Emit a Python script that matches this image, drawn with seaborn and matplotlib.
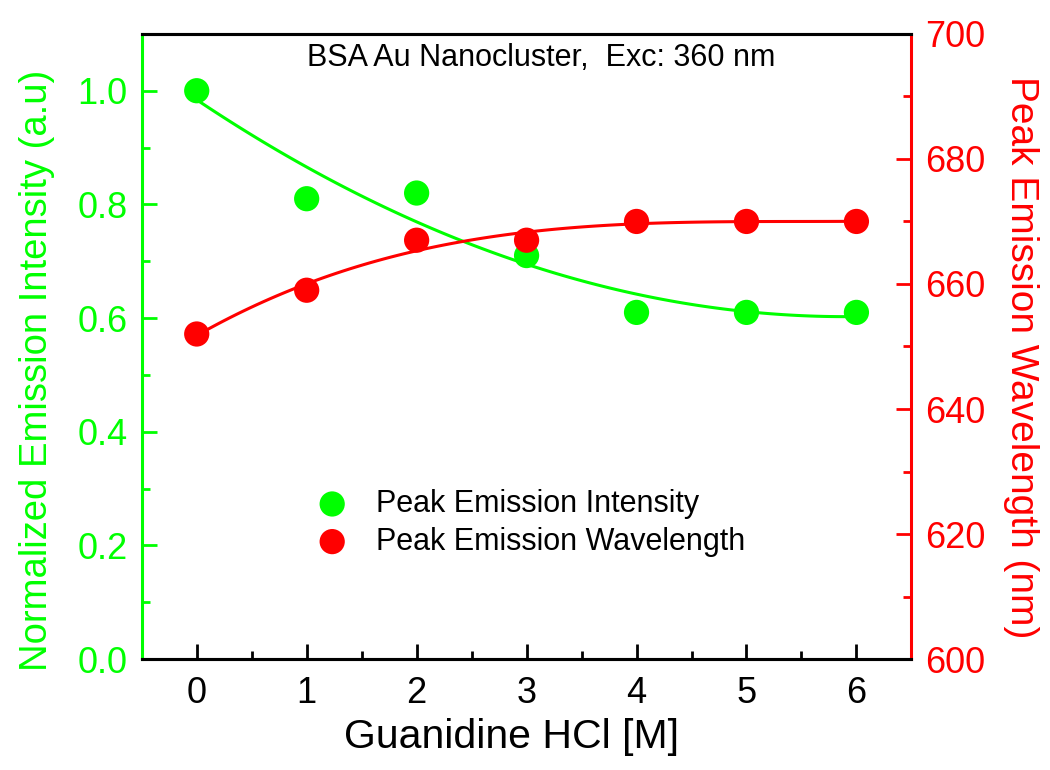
import numpy as np
import pandas as pd
import matplotlib
matplotlib.use("Agg")
import matplotlib.pyplot as plt
import seaborn as sns
from matplotlib.ticker import MultipleLocator

# Data
guanidine = [0, 1, 2, 3, 4, 5, 6]
intensity = [1.00, 0.81, 0.82, 0.71, 0.61, 0.61, 0.61]
wavelength = [652, 659, 667, 667, 670, 670, 670]
x_ticks = [0, 1, 2, 3, 4, 5, 6]

GREEN = "#00ff00"
RED = "#ff0000"

sns.set_theme(style="ticks")
plt.rcParams['font.family'] = ['Liberation Sans', 'DejaVu Sans']
plt.rcParams['text.color'] = 'black'

df = pd.DataFrame({"x": guanidine, "I": intensity, "W": wavelength})

fig = plt.figure(figsize=(10.5, 7.7), dpi=100)
ax = fig.add_axes([0.135, 0.144, 0.733, 0.812])
ax2 = ax.twinx()

sns.regplot(data=df, x="x", y="I", order=2, ci=None, scatter=False, ax=ax,
            line_kws=dict(color=GREEN, lw=2.2), truncate=True)
sns.scatterplot(data=df, x="x", y="I", ax=ax, color=GREEN, s=330,
                edgecolor="none", label="Peak Emission Intensity", legend=False, zorder=5)
sns.regplot(data=df, x="x", y="W", order=3, ci=None, scatter=False, ax=ax2,
            line_kws=dict(color=RED, lw=2.2), truncate=True)
sns.scatterplot(data=df, x="x", y="W", ax=ax2, color=RED, s=330,
                edgecolor="none", label="Peak Emission Wavelength", legend=False, zorder=5)

ax.set_xlim(-0.5, 6.5)
ax.set_ylim(0, 1.1)
ax2.set_ylim(600, 700)

ax.set_xticks(x_ticks)
ax.xaxis.set_minor_locator(MultipleLocator(0.5))
ax.yaxis.set_major_locator(MultipleLocator(0.2))
ax.yaxis.set_minor_locator(MultipleLocator(0.1))
ax2.yaxis.set_major_locator(MultipleLocator(20))
ax2.yaxis.set_minor_locator(MultipleLocator(10))
ax.yaxis.set_major_formatter(matplotlib.ticker.FormatStrFormatter('%.1f'))

lw = 2.2
for a in (ax, ax2):
    for s in a.spines.values():
        s.set_linewidth(lw)
        s.set_color("black")
ax.spines['left'].set_color(GREEN)
ax2.spines['left'].set_visible(False)
ax2.spines['right'].set_color(RED)
ax.spines['right'].set_visible(False)

ax.tick_params(axis='x', which='major', direction='in', length=11, width=2, colors='black',
               labelsize=26, pad=12, top=False)
ax.tick_params(axis='x', which='minor', direction='in', length=6, width=2, colors='black', top=False)
ax.tick_params(axis='y', which='major', direction='in', length=11, width=2, colors=GREEN,
               labelsize=26, pad=10)
ax.tick_params(axis='y', which='minor', direction='in', length=6, width=2, colors=GREEN)
ax2.tick_params(axis='y', which='major', direction='in', length=11, width=2, colors=RED,
                labelsize=26, pad=10)
ax2.tick_params(axis='y', which='minor', direction='in', length=6, width=2, colors=RED)

ax.set_xlabel("Guanidine HCl [M]", fontsize=29.5, color="black")
ax.xaxis.set_label_coords(0.481, -0.094)
ax.set_ylabel("Normalized Emission Intensity (a.u)", fontsize=27.5, color=GREEN)
ax.yaxis.set_label_coords(-0.113, 0.462)
ax2.set_ylabel("Peak Emission Wavelength (nm)", fontsize=28, color=RED, rotation=270,
               labelpad=34)
ax2.yaxis.set_label_coords(1.166, 0.483)

ax.text(0.519, 0.962, "BSA Au Nanocluster,  Exc: 360 nm", transform=ax.transAxes,
        ha="center", va="center", fontsize=22, color="black")

h1, l1 = ax.get_legend_handles_labels()
h2, l2 = ax2.get_legend_handles_labels()
handles = [h for h in h1 + h2 if h.get_label().startswith("Peak")]
labels = [h.get_label() for h in handles]
leg = ax2.legend(handles, labels, loc="center left", bbox_to_anchor=(0.172, 0.218),
                 frameon=False, fontsize=22, handletextpad=0.45, labelspacing=0.25,
                 markerscale=1.0, labelcolor="black")

fig.savefig("out.png", dpi=100, facecolor="white")
